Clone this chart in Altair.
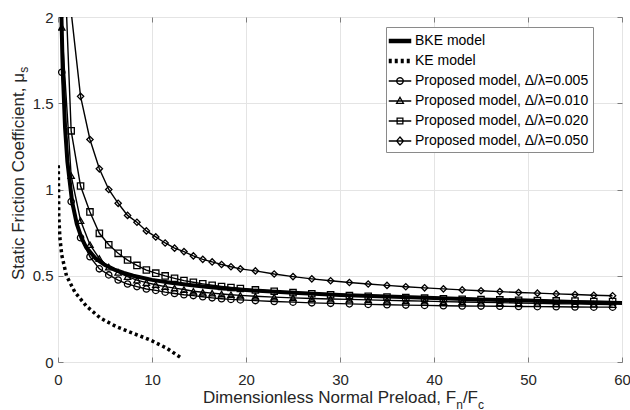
import altair as alt
import pandas as pd

FONT = "Liberation Sans"

# ---- data -------------------------------------------------------------
labels = [
    "BKE model",
    "KE model",
    "Proposed model, Δ/λ=0.005",
    "Proposed model, Δ/λ=0.010",
    "Proposed model, Δ/λ=0.020",
    "Proposed model, Δ/λ=0.050",
]

# BKE model (continuous curve)
bke_x = [0.15, 0.3, 0.5, 0.75, 1.0, 1.5, 2.0, 2.5, 3.0, 4.0, 5.0, 6.0, 7.0, 8.0,
         10, 12, 14, 16, 18, 20, 25, 30, 35, 40, 45, 50, 55, 60]
bke_y = [3.0, 2.15, 1.7, 1.36, 1.16, 0.93, 0.8, 0.72, 0.665, 0.6, 0.562, 0.536, 0.516, 0.5,
         0.476, 0.459, 0.446, 0.435, 0.425, 0.417, 0.401, 0.389, 0.379, 0.371, 0.363, 0.356, 0.348, 0.342]

# KE model (dotted curve)
ke_x = [0.03, 0.08, 0.2, 0.4, 0.9, 1.8, 3.0, 4.5, 6.2, 8.0, 9.8, 11.6, 13.2]
ke_y = [1.14, 0.85, 0.72, 0.62, 0.5, 0.405, 0.325, 0.255, 0.205, 0.166, 0.128, 0.079, 0.02]

# proposed model, sampled preloads (markers)
prop_x = [0.1, 0.4, 1.4, 2.4, 3.4, 4.4, 5.4, 6.4, 7.4, 8.4, 9.4, 10.4, 11.4, 12.4, 13.4,
          14.4, 15.4, 16.4, 17.4, 18.4, 19.4, 21, 23, 25, 27, 29, 31, 33, 35, 37, 39,
          41, 43, 45, 47, 49, 51, 53, 55, 57, 59]
prop_005 = [4.0, 1.68, 0.93, 0.72, 0.61, 0.54, 0.505, 0.475, 0.452, 0.437, 0.423, 0.415,
            0.405, 0.397, 0.39, 0.385, 0.378, 0.372, 0.367, 0.363, 0.36, 0.356, 0.351,
            0.347, 0.343, 0.34, 0.337, 0.334, 0.332, 0.33, 0.328, 0.326, 0.325, 0.324,
            0.323, 0.322, 0.321, 0.32, 0.319, 0.318, 0.318]
prop_010 = [4.5, 1.94, 1.08, 0.82, 0.68, 0.6, 0.55, 0.52, 0.495, 0.475, 0.46, 0.448,
            0.437, 0.428, 0.42, 0.41, 0.404, 0.399, 0.394, 0.39, 0.386, 0.381, 0.376,
            0.372, 0.368, 0.365, 0.363, 0.36, 0.357, 0.355, 0.353, 0.35, 0.348, 0.346,
            0.344, 0.342, 0.34, 0.338, 0.337, 0.335, 0.333]
prop_020 = [5.5, 2.72, 1.34, 1.02, 0.87, 0.746, 0.68, 0.63, 0.591, 0.56, 0.533, 0.515,
            0.499, 0.485, 0.472, 0.462, 0.453, 0.445, 0.438, 0.432, 0.426, 0.418, 0.41,
            0.402, 0.396, 0.39, 0.385, 0.381, 0.377, 0.373, 0.37, 0.367, 0.364, 0.362,
            0.36, 0.358, 0.356, 0.354, 0.353, 0.351, 0.35]
prop_050 = [8.0, 4.0, 2.03, 1.54, 1.29, 1.12, 1.0, 0.92, 0.85, 0.81, 0.76, 0.725, 0.69,
            0.66, 0.64, 0.615, 0.595, 0.58, 0.565, 0.552, 0.54, 0.528, 0.51, 0.495,
            0.482, 0.471, 0.461, 0.452, 0.444, 0.436, 0.43, 0.424, 0.418, 0.413, 0.408,
            0.403, 0.399, 0.395, 0.391, 0.387, 0.384]

x_ticks = [0, 10, 20, 30, 40, 50, 60]
y_ticks = [0, 0.5, 1, 1.5, 2]

# ---- tables -----------------------------------------------------------
bke_df = pd.DataFrame({"x": bke_x, "y": bke_y})
ke_df = pd.DataFrame({"x": ke_x, "y": ke_y})
prop_series = [prop_005, prop_010, prop_020, prop_050]
prop_df = pd.concat(
    [pd.DataFrame({"x": prop_x, "y": ys, "series": lab})
     for ys, lab in zip(prop_series, labels[2:])],
    ignore_index=True,
)
marker_shapes = ["circle", "triangle-up", "square", "diamond"]

# ---- scales & axes ----------------------------------------------------
X_SCALE = alt.Scale(domain=[0, 60], nice=False, zero=False)
Y_SCALE = alt.Scale(domain=[0, 2], nice=False, zero=False)
FRAME = "#7d7d7d"
TXT = "#262626"

x_main = alt.Axis(orient="bottom", values=x_ticks, title=None, grid=True,
                  gridColor="#e4e4e4", domain=False, tickSize=5, tickColor=FRAME,
                  offset=-5, labelPadding=10, labelFont=FONT, labelFontSize=15,
                  labelColor=TXT, labelFlush=False)
y_main = alt.Axis(orient="left", values=y_ticks, title=None, grid=True,
                  gridColor="#e4e4e4", domain=False, tickSize=5, tickColor=FRAME,
                  offset=-5, labelPadding=5, labelFont=FONT, labelFontSize=15,
                  labelColor=TXT, labelFlush=False, labelExpr="toString(datum.value)")
x_top = alt.Axis(orient="top", values=x_ticks, title=None, grid=False, labels=False,
                 domain=False, tickSize=5, tickColor=FRAME, offset=-5)
y_right = alt.Axis(orient="right", values=y_ticks, title=None, grid=False, labels=False,
                   domain=False, tickSize=5, tickColor=FRAME, offset=-5)


def xy(xaxis=None, yaxis=None):
    return dict(
        x=alt.X("x:Q", scale=X_SCALE, axis=xaxis),
        y=alt.Y("y:Q", scale=Y_SCALE, axis=yaxis),
    )


# ---- marks ------------------------------------------------------------
bke = alt.Chart(bke_df).mark_line(color="black", strokeWidth=4, clip=True).encode(
    **xy(x_main, y_main))

ke = alt.Chart(ke_df).mark_line(color="black", strokeWidth=3.5, strokeDash=[3, 3],
                                strokeCap="butt", clip=True).encode(**xy(x_top, y_right))

prop_lines = alt.Chart(prop_df).mark_line(color="black", strokeWidth=1.4, clip=True).encode(
    detail="series:N", order="x:Q", **xy())

prop_points = [
    alt.Chart(prop_df).transform_filter(alt.datum.series == lab)
    .mark_point(shape=shp, filled=False, size=40, strokeWidth=1.3, color="black",
                opacity=1, clip=True)
    .encode(**xy())
    for lab, shp in zip(labels[2:], marker_shapes)
]

# ---- legend (line + marker glyphs) -------------------------------------
# thick sample lines are drawn as a bundle of parallel strokes
THICK = "M-1.25,-0.17H1.25M-1.25,-0.06H1.25M-1.25,0.06H1.25M-1.25,0.17H1.25"
legend_paths = [
    THICK,
    THICK,
    "M-1.25,0H1.25M0.36,0A0.36,0.36,0,1,1,-0.36,0A0.36,0.36,0,1,1,0.36,0",
    "M-1.25,0H1.25M0,-0.4L0.38,0.26L-0.38,0.26Z",
    "M-1.25,0H1.25M-0.32,-0.32H0.32V0.32H-0.32Z",
    "M-1.25,0H1.25M0,-0.45L0.38,0L0,0.45L-0.38,0Z",
]
legend_dashes = [[1, 0], [3, 3], [1, 0], [1, 0], [1, 0], [1, 0]]

leg = alt.Legend(title=None, orient="none", legendX=328, legendY=10,
                 labelFont=FONT, labelFontSize=14, labelColor="black", labelLimit=0,
                 strokeColor="#8a8a8a", fillColor="white", padding=4, rowPadding=3,
                 symbolSize=324, labelOffset=5, symbolStrokeColor="black",
                 symbolStrokeWidth=1.3, symbolFillColor="transparent", symbolOpacity=1)

legend_layer = (
    alt.Chart(pd.DataFrame({"series": labels}))
    .transform_filter("false")
    .mark_point(filled=False, color="black", opacity=1, size=324, strokeWidth=1.3)
    .encode(
        shape=alt.Shape("series:N", scale=alt.Scale(domain=labels, range=legend_paths),
                        legend=leg),
        strokeDash=alt.StrokeDash("series:N",
                                  scale=alt.Scale(domain=labels, range=legend_dashes),
                                  legend=leg),
    )
)


# ---- axis titles with subscripts ----------------------------------------
def label(text, px, py, size=17, angle=0):
    kw = dict(font=FONT, fontSize=size, align="left", baseline="alphabetic", color=TXT)
    if angle:
        kw["angle"] = angle
    return alt.Chart(pd.DataFrame({"t": [text]})).mark_text(**kw).encode(
        x=alt.value(px), y=alt.value(py), text="t:N")


titles = [
    label("Dimensionless Normal Preload, F", 145, 386),
    label("n", 398.2, 391.5, size=12),
    label("/F", 404.9, 386),
    label("c", 420.0, 391.5, size=12),
    label("Static Friction Coefficient, μ", -34, 263, angle=270),
    label("s", -30, 55.7, size=12, angle=270),
]

chart = (
    alt.layer(bke, ke, prop_lines, *prop_points, legend_layer, *titles)
    .properties(
        width=564, height=345,
        autosize=alt.AutoSizeParams(type="none"),
        padding={"left": 58, "top": 17, "right": 8, "bottom": 48},
    )
    .configure_view(stroke=FRAME, strokeWidth=1)
    .configure(background="white")
)

chart.save("out.html", embed_options={"renderer": "svg", "actions": False})
